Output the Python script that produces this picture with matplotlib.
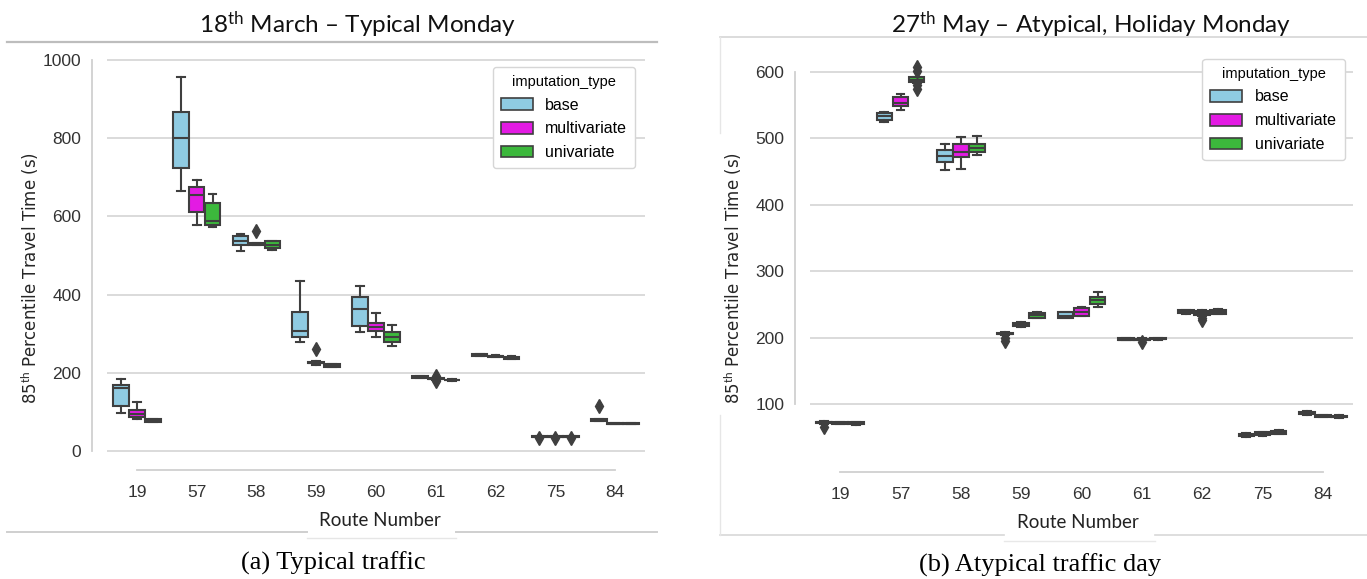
import matplotlib.pyplot as plt
from matplotlib.patches import Patch
from matplotlib.lines import Line2D

W, H = 1367, 579

ROUTES = ["19", "57", "58", "59", "60", "61", "62", "75", "84"]
SERIES = ["base", "multivariate", "univariate"]
COLORS = ["#8fcbe2", "#e31be3", "#3cb83c"]
EDGE = "#3f3f3f"

# each row: [whislo, q1, median, q3, whishi] per route (19 ... 84)
# (a) 18th March - typical Monday
typ_base = [[98, 115, 162, 170, 185], [666, 723, 800, 866, 957], [512, 528, 536, 551, 556],
            [279, 291, 308, 355, 436], [305, 319, 362, 393, 421], [186, 187, 189, 191, 192],
            [242, 243, 245, 247, 248], [36, 37, 37, 38, 38], [77, 78, 80, 82, 83]]
typ_multi = [[83, 87, 95, 104, 125], [579, 610, 655, 674, 694], [527, 528, 529, 531, 532],
             [221, 224, 226, 229, 231], [291, 306, 317, 328, 353], [183, 184, 185, 186, 187],
             [240, 241, 243, 244, 245], [36, 37, 37, 38, 38], [68, 69, 70, 71, 72]]
typ_uni = [[74, 75, 78, 82, 83], [572, 579, 589, 634, 657], [515, 519, 528, 536, 538],
           [214, 216, 219, 222, 223], [268, 278, 291, 305, 322], [180, 181, 182, 183, 184],
           [235, 236, 239, 241, 242], [36, 37, 37, 38, 38], [68, 69, 70, 71, 72]]
typ_base_fl = [[], [], [], [], [], [], [], [33], [116]]
typ_multi_fl = [[], [], [562], [260], [], [191, 178], [], [33], []]
typ_uni_fl = [[], [], [], [], [], [], [], [33], []]

# (b) 27th May - atypical, holiday Monday
aty_base = [[70, 71, 72, 73, 74], [525, 528, 533, 538, 539], [453, 464, 473, 483, 492],
            [204, 205, 206, 207, 208], [229, 229, 233, 238, 239], [196, 196, 197, 199, 199],
            [236, 237, 239, 241, 241], [50, 51, 53, 55, 56], [84, 85, 87, 88, 89]]
aty_multi = [[69, 70, 71, 72, 73], [543, 548, 554, 562, 567], [454, 472, 480, 491, 502],
             [216, 217, 220, 222, 223], [232, 233, 239, 245, 246], [196, 197, 197, 198, 199],
             [233, 234, 237, 240, 241], [52, 53, 55, 57, 58], [80, 81, 82, 84, 84]]
aty_uni = [[68, 69, 71, 72, 73], [583, 585, 588, 592, 593], [475, 479, 486, 491, 503],
           [229, 230, 234, 237, 238], [246, 250, 256, 261, 268], [197, 198, 198, 199, 200],
           [235, 236, 239, 242, 243], [54, 55, 57, 59, 60], [79, 80, 81, 82, 83]]
aty_base_fl = [[65], [], [], [199, 195], [], [], [], [], []]
aty_multi_fl = [[], [], [], [], [], [193], [229, 226], [], []]
aty_uni_fl = [[], [608, 601, 580, 575], [], [], [], [], [], [], []]

plt.rcParams["mathtext.fontset"] = "custom"
plt.rcParams["mathtext.rm"] = "Lato"
plt.rcParams["mathtext.it"] = "Lato:italic"
plt.rcParams["mathtext.bf"] = "Lato:bold"

fig = plt.figure(figsize=(W / 100, H / 100), dpi=100)


def fx(px):
    return px / W


def fy(py):
    return 1 - py / H


def draw_panel(ax, stats, fliers, ylim, yticks, leg_anchor):
    step = 0.8 / 3
    for k in range(3):
        bx = []
        for (lo, q1, med, q3, hi), fl in zip(stats[k], fliers[k]):
            bx.append(dict(whislo=lo, q1=q1, med=med, q3=q3, whishi=hi, fliers=fl))
        pos = [i + (k - 1) * step for i in range(len(ROUTES))]
        ax.bxp(bx, positions=pos, widths=step * 0.98, capwidths=0.13,
               patch_artist=True, manage_ticks=False,
               boxprops=dict(facecolor=COLORS[k], edgecolor=EDGE, linewidth=1.5),
               whiskerprops=dict(color=EDGE, linewidth=1.5),
               capprops=dict(color=EDGE, linewidth=1.5),
               medianprops=dict(color=EDGE, linewidth=1.5),
               flierprops=dict(marker="d", markerfacecolor=EDGE, markeredgecolor=EDGE,
                               markersize=7.5))
    ax.set_xlim(-0.5, len(ROUTES) - 0.5)
    ax.set_ylim(*ylim)
    ax.set_xticks(range(len(ROUTES)))
    ax.set_xticklabels(ROUTES)
    ax.set_yticks(yticks)
    ax.yaxis.grid(True, color="#dadada", linewidth=1.4)
    ax.xaxis.grid(False)
    ax.set_axisbelow(True)
    for s in ["top", "right"]:
        ax.spines[s].set_visible(False)
    for s in ["left", "bottom"]:
        ax.spines[s].set_position(("outward", 10.5))
        ax.spines[s].set_color("#d0d0d0")
        ax.spines[s].set_linewidth(1.3)
    ax.spines["left"].set_bounds(yticks[0], yticks[-1])
    ax.spines["bottom"].set_bounds(0, len(ROUTES) - 1)
    ax.tick_params(axis="both", length=0, labelsize=12.5, labelcolor="#333333")
    ax.tick_params(axis="x", pad=11)
    ax.tick_params(axis="y", pad=8)
    for lab in ax.get_xticklabels() + ax.get_yticklabels():
        lab.set_family("Liberation Sans")
    handles = [Patch(facecolor=c, edgecolor=EDGE, linewidth=1.2, label=s)
               for c, s in zip(COLORS, SERIES)]
    leg = ax.legend(handles=handles, title="imputation_type", loc="upper right",
                    bbox_to_anchor=leg_anchor, prop=dict(family="Liberation Sans", size=11.5),
                    title_fontproperties=dict(family="Liberation Sans", size=10.5),
                    handlelength=2.0, handleheight=0.75, labelspacing=0.55,
                    handletextpad=0.8, borderpad=0.5, framealpha=1, edgecolor="#d6d6d6")
    leg.get_frame().set_linewidth(1.0)


ax1 = fig.add_axes([fx(107), fy(455), fx(538), (455 - 56) / H])
draw_panel(ax1, [typ_base, typ_multi, typ_uni], [typ_base_fl, typ_multi_fl, typ_uni_fl],
           (-10, 1010), [0, 200, 400, 600, 800, 1000], (0.997, 0.993))

ax2 = fig.add_axes([fx(810), fy(457), fx(543), (457 - 58.7) / H])
draw_panel(ax2, [aty_base, aty_multi, aty_uni], [aty_base_fl, aty_multi_fl, aty_uni_fl],
           (20, 620), [100, 200, 300, 400, 500, 600], (1.0, 1.02))

ylab = "85$^{\\mathrm{th}}$ Percentile Travel Time (s)"
fig.text(fx(30), fy(278), ylab, rotation=90, ha="center", va="center",
         family="DejaVu Sans", fontsize=12, color="#262626")
fig.text(fx(733), fy(278), ylab, rotation=90, ha="center", va="center",
         family="DejaVu Sans", fontsize=12, color="#262626")

fig.text(fx(358), fy(25), "18$^{\\mathrm{th}}$ March \u2013 Typical Monday", ha="center",
         va="center", family="Lato", fontsize=17.5, color="#111111")
fig.text(fx(1091), fy(25), "27$^{\\mathrm{th}}$ May \u2013 Atypical, Holiday Monday", ha="center",
         va="center", family="Lato", fontsize=17.5, color="#111111")

fig.text(fx(380), fy(520), "Route Number", ha="center", va="center", family="Lato",
         fontsize=13.5, color="#222222")
fig.text(fx(1078), fy(523), "Route Number", ha="center", va="center", family="Lato",
         fontsize=13.5, color="#222222")

fig.text(fx(333), fy(563), "(a) Typical traffic", ha="center", va="center",
         family="Liberation Serif", fontsize=19, color="black")
fig.text(fx(1040), fy(565), "(b) Atypical traffic day", ha="center", va="center",
         family="Liberation Serif", fontsize=19, color="black")

# frame lines of the pasted screenshots
segs = [((7, 42), (657, 42), "#bdbdbd", 1.6),
        ((720, 37), (1367, 37), "#d5d5d5", 1.2),
        ((7, 532), (307, 532), "#cfcfcf", 1.4),
        ((456, 532), (657, 532), "#cfcfcf", 1.4),
        ((307, 538), (456, 538), "#e6e6e6", 1.0),
        ((720, 535), (1004, 535), "#d8d8d8", 1.2),
        ((1155, 535), (1367, 535), "#d8d8d8", 1.2),
        ((1004, 541), (1155, 541), "#e8e8e8", 1.0),
        ((720, 37), (720, 133), "#e6e6e6", 1.0),
        ((720, 415), (720, 535), "#e6e6e6", 1.0)]
for (x0, y0), (x1, y1), c, lw in segs:
    fig.add_artist(Line2D([fx(x0), fx(x1)], [fy(y0), fy(y1)], color=c, linewidth=lw,
                          transform=fig.transFigure))

fig.savefig("out.png", dpi=100)
